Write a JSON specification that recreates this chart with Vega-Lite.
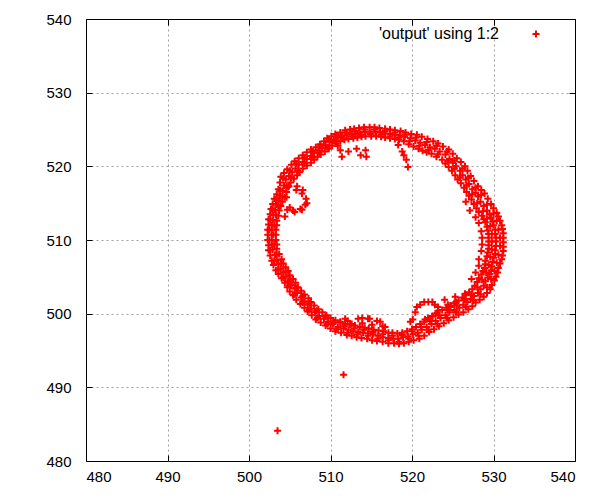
{
  "$schema": "https://vega.github.io/schema/vega-lite/v6.json",
  "width": 489,
  "height": 442,
  "autosize": {"type": "none"},
  "padding": {"left": 86, "top": 19, "right": 25, "bottom": 39},
  "background": "white",
  "config": {
    "view": {"stroke": "black", "strokeWidth": 1},
    "axis": {
      "labelFont": "Liberation Sans",
      "labelFontSize": 15,
      "labelColor": "black",
      "tickColor": "black",
      "tickSize": -6,
      "tickWidth": 1,
      "domain": false,
      "title": null,
      "gridColor": "#a0a0a0",
      "gridDash": [2, 3],
      "gridWidth": 1
    }
  },
  "datasets": {
    "ring": [
      {"x":502.9,"y":508.7},{"x":502.8,"y":509.4},{"x":502.8,"y":510.0},{"x":502.8,"y":510.7},{"x":502.8,"y":511.4},{"x":502.8,"y":512.0},{"x":502.9,"y":512.7},{"x":503.0,"y":513.4},{"x":503.2,"y":514.1},{"x":503.4,"y":514.8},{"x":503.6,"y":515.4},{"x":503.8,"y":516.0},{"x":504.1,"y":516.7},{"x":504.3,"y":517.4},{"x":504.5,"y":518.2},{"x":504.9,"y":518.7},{"x":505.3,"y":519.2},{"x":505.7,"y":519.7},{"x":506.1,"y":520.2},{"x":506.6,"y":520.6},{"x":507.1,"y":521.0},{"x":507.6,"y":521.4},{"x":508.0,"y":521.8},{"x":508.5,"y":522.2},{"x":509.0,"y":522.5},{"x":509.4,"y":522.9},{"x":509.9,"y":523.3},{"x":510.4,"y":523.6},{"x":510.9,"y":523.9},{"x":511.4,"y":524.1},{"x":512.0,"y":524.3},{"x":512.6,"y":524.4},{"x":513.1,"y":524.5},{"x":513.6,"y":524.6},{"x":514.2,"y":524.7},{"x":514.8,"y":524.7},{"x":515.5,"y":524.7},{"x":516.1,"y":524.6},{"x":516.7,"y":524.5},{"x":517.3,"y":524.4},{"x":517.9,"y":524.3},{"x":518.5,"y":524.2},{"x":519.1,"y":524.0},{"x":519.8,"y":523.8},{"x":520.4,"y":523.5},{"x":521.0,"y":523.2},{"x":521.6,"y":522.9},{"x":522.2,"y":522.6},{"x":522.8,"y":522.4},{"x":523.4,"y":522.0},{"x":524.1,"y":521.6},{"x":524.6,"y":521.0},{"x":525.0,"y":520.5},{"x":525.4,"y":520.0},{"x":525.9,"y":519.4},{"x":526.2,"y":518.8},{"x":526.6,"y":518.2},{"x":527.0,"y":517.6},{"x":527.4,"y":516.9},{"x":527.8,"y":516.4},{"x":528.1,"y":515.9},{"x":528.4,"y":515.2},{"x":528.8,"y":514.6},{"x":529.2,"y":514.0},{"x":529.5,"y":513.5},{"x":529.7,"y":513.0},{"x":529.9,"y":512.5},{"x":530.0,"y":512.0},{"x":530.2,"y":511.4},{"x":530.2,"y":510.8},{"x":530.3,"y":510.3},{"x":530.3,"y":509.8},{"x":530.3,"y":509.2},{"x":530.2,"y":508.6},{"x":530.2,"y":508.1},{"x":530.0,"y":507.6},{"x":529.9,"y":507.0},{"x":529.8,"y":506.4},{"x":529.7,"y":505.9},{"x":529.5,"y":505.4},{"x":529.3,"y":504.9},{"x":529.0,"y":504.4},{"x":528.8,"y":503.8},{"x":528.4,"y":503.3},{"x":528.1,"y":502.8},{"x":527.6,"y":502.4},{"x":527.2,"y":502.0},{"x":526.8,"y":501.6},{"x":526.3,"y":501.2},{"x":525.8,"y":500.8},{"x":525.2,"y":500.5},{"x":524.6,"y":500.2},{"x":524.1,"y":499.8},{"x":523.5,"y":499.4},{"x":522.9,"y":499.0},{"x":522.4,"y":498.6},{"x":521.8,"y":498.2},{"x":521.2,"y":497.8},{"x":520.7,"y":497.4},{"x":520.1,"y":497.2},{"x":519.5,"y":496.9},{"x":518.9,"y":496.8},{"x":518.3,"y":496.6},{"x":517.7,"y":496.6},{"x":517.1,"y":496.7},{"x":516.4,"y":496.8},{"x":515.8,"y":497.0},{"x":515.2,"y":497.2},{"x":514.6,"y":497.3},{"x":514.0,"y":497.4},{"x":513.4,"y":497.5},{"x":512.8,"y":497.6},{"x":512.2,"y":497.8},{"x":511.6,"y":498.0},{"x":510.9,"y":498.2},{"x":510.3,"y":498.6},{"x":509.7,"y":498.9},{"x":509.2,"y":499.3},{"x":508.6,"y":499.7},{"x":508.1,"y":500.2},{"x":507.6,"y":500.7},{"x":507.2,"y":501.2},{"x":506.8,"y":501.7},{"x":506.4,"y":502.2},{"x":505.9,"y":502.8},{"x":505.6,"y":503.4},{"x":505.2,"y":503.9},{"x":504.8,"y":504.4},{"x":504.5,"y":505.0},{"x":504.2,"y":505.6},{"x":503.9,"y":506.1},{"x":503.6,"y":506.7},{"x":503.4,"y":507.3},{"x":503.2,"y":508.0},
      {"x":502.4,"y":508.6},{"x":502.4,"y":509.3},{"x":502.3,"y":510.0},{"x":502.3,"y":510.7},{"x":502.3,"y":511.4},{"x":502.4,"y":512.1},{"x":502.4,"y":512.8},{"x":502.6,"y":513.5},{"x":502.7,"y":514.2},{"x":502.9,"y":514.9},{"x":503.1,"y":515.6},{"x":503.4,"y":516.2},{"x":503.6,"y":516.9},{"x":503.8,"y":517.8},{"x":503.9,"y":518.6},{"x":504.3,"y":519.1},{"x":504.7,"y":519.6},{"x":505.2,"y":520.2},{"x":505.6,"y":520.7},{"x":506.1,"y":521.1},{"x":506.6,"y":521.5},{"x":507.1,"y":521.9},{"x":507.6,"y":522.3},{"x":508.2,"y":522.6},{"x":508.7,"y":523.0},{"x":509.2,"y":523.4},{"x":509.6,"y":523.8},{"x":510.1,"y":524.1},{"x":510.6,"y":524.4},{"x":511.2,"y":524.6},{"x":511.8,"y":524.9},{"x":512.4,"y":525.0},{"x":512.9,"y":525.1},{"x":513.5,"y":525.2},{"x":514.1,"y":525.3},{"x":514.8,"y":525.3},{"x":515.4,"y":525.3},{"x":516.0,"y":525.2},{"x":516.7,"y":525.1},{"x":517.3,"y":525.0},{"x":517.9,"y":524.9},{"x":518.6,"y":524.8},{"x":519.2,"y":524.6},{"x":519.9,"y":524.4},{"x":520.6,"y":524.3},{"x":521.2,"y":524.0},{"x":521.9,"y":523.7},{"x":522.6,"y":523.4},{"x":523.2,"y":523.1},{"x":523.8,"y":522.7},{"x":524.5,"y":522.3},{"x":525.0,"y":521.7},{"x":525.5,"y":521.1},{"x":526.0,"y":520.6},{"x":526.5,"y":520.0},{"x":526.8,"y":519.4},{"x":527.2,"y":518.7},{"x":527.6,"y":518.0},{"x":528.1,"y":517.3},{"x":528.5,"y":516.8},{"x":528.9,"y":516.3},{"x":529.3,"y":515.6},{"x":529.7,"y":514.9},{"x":530.0,"y":514.3},{"x":530.4,"y":513.7},{"x":530.6,"y":513.2},{"x":530.8,"y":512.6},{"x":531.0,"y":512.0},{"x":531.1,"y":511.5},{"x":531.2,"y":510.9},{"x":531.2,"y":510.3},{"x":531.2,"y":509.7},{"x":531.2,"y":509.1},{"x":531.2,"y":508.5},{"x":531.1,"y":507.9},{"x":531.0,"y":507.4},{"x":530.8,"y":506.8},{"x":530.6,"y":506.2},{"x":530.5,"y":505.6},{"x":530.3,"y":505.0},{"x":530.1,"y":504.5},{"x":529.8,"y":503.9},{"x":529.6,"y":503.3},{"x":529.2,"y":502.8},{"x":528.8,"y":502.3},{"x":528.3,"y":501.9},{"x":527.8,"y":501.5},{"x":527.4,"y":501.0},{"x":526.9,"y":500.6},{"x":526.3,"y":500.2},{"x":525.7,"y":499.9},{"x":525.1,"y":499.5},{"x":524.5,"y":499.1},{"x":523.9,"y":498.7},{"x":523.3,"y":498.3},{"x":522.7,"y":497.9},{"x":522.1,"y":497.5},{"x":521.5,"y":497.0},{"x":520.9,"y":496.6},{"x":520.2,"y":496.4},{"x":519.6,"y":496.2},{"x":519.0,"y":496.0},{"x":518.4,"y":495.9},{"x":517.8,"y":496.0},{"x":517.1,"y":496.0},{"x":516.4,"y":496.2},{"x":515.7,"y":496.3},{"x":515.1,"y":496.4},{"x":514.5,"y":496.6},{"x":513.8,"y":496.7},{"x":513.2,"y":496.8},{"x":512.6,"y":497.0},{"x":512.0,"y":497.1},{"x":511.3,"y":497.4},{"x":510.6,"y":497.6},{"x":510.0,"y":498.0},{"x":509.4,"y":498.4},{"x":508.8,"y":498.8},{"x":508.2,"y":499.2},{"x":507.7,"y":499.8},{"x":507.2,"y":500.3},{"x":506.8,"y":500.8},{"x":506.3,"y":501.3},{"x":505.8,"y":501.9},{"x":505.4,"y":502.5},{"x":505.0,"y":503.0},{"x":504.7,"y":503.6},{"x":504.4,"y":504.2},{"x":504.0,"y":504.8},{"x":503.6,"y":505.4},{"x":503.3,"y":505.9},{"x":503.0,"y":506.6},{"x":502.8,"y":507.2},{"x":502.6,"y":507.9},
      {"x":503.4,"y":508.8},{"x":503.4,"y":509.4},{"x":503.3,"y":510.0},{"x":503.3,"y":510.7},{"x":503.3,"y":511.4},{"x":503.4,"y":512.0},{"x":503.4,"y":512.6},{"x":503.6,"y":513.3},{"x":503.7,"y":514.0},{"x":503.9,"y":514.6},{"x":504.1,"y":515.2},{"x":504.4,"y":515.8},{"x":504.6,"y":516.5},{"x":504.8,"y":517.2},{"x":505.1,"y":517.8},{"x":505.5,"y":518.3},{"x":505.9,"y":518.8},{"x":506.2,"y":519.2},{"x":506.6,"y":519.7},{"x":507.1,"y":520.1},{"x":507.6,"y":520.5},{"x":508.0,"y":520.9},{"x":508.4,"y":521.3},{"x":508.8,"y":521.6},{"x":509.3,"y":522.0},{"x":509.8,"y":522.4},{"x":510.2,"y":522.8},{"x":510.7,"y":523.1},{"x":511.2,"y":523.4},{"x":511.7,"y":523.6},{"x":512.2,"y":523.7},{"x":512.8,"y":523.8},{"x":513.3,"y":523.9},{"x":513.8,"y":524.0},{"x":514.3,"y":524.1},{"x":515.0,"y":524.1},{"x":515.6,"y":524.1},{"x":516.2,"y":524.0},{"x":516.7,"y":523.9},{"x":517.3,"y":523.8},{"x":517.9,"y":523.7},{"x":518.4,"y":523.6},{"x":519.0,"y":523.4},{"x":519.6,"y":523.0},{"x":520.2,"y":522.7},{"x":520.8,"y":522.4},{"x":521.3,"y":522.1},{"x":521.8,"y":521.9},{"x":522.4,"y":521.7},{"x":523.0,"y":521.3},{"x":523.7,"y":520.9},{"x":524.1,"y":520.4},{"x":524.5,"y":519.9},{"x":524.9,"y":519.4},{"x":525.3,"y":518.8},{"x":525.6,"y":518.2},{"x":526.0,"y":517.7},{"x":526.4,"y":517.1},{"x":526.7,"y":516.5},{"x":527.0,"y":516.0},{"x":527.3,"y":515.5},{"x":527.6,"y":514.9},{"x":527.9,"y":514.3},{"x":528.2,"y":513.8},{"x":528.6,"y":513.3},{"x":528.8,"y":512.8},{"x":529.0,"y":512.4},{"x":529.2,"y":511.8},{"x":529.3,"y":511.3},{"x":529.4,"y":510.8},{"x":529.4,"y":510.3},{"x":529.4,"y":509.8},{"x":529.4,"y":509.3},{"x":529.4,"y":508.8},{"x":529.3,"y":508.3},{"x":529.2,"y":507.8},{"x":529.0,"y":507.2},{"x":529.0,"y":506.7},{"x":528.9,"y":506.2},{"x":528.7,"y":505.8},{"x":528.5,"y":505.3},{"x":528.2,"y":504.8},{"x":528.0,"y":504.3},{"x":527.7,"y":503.8},{"x":527.4,"y":503.3},{"x":527.0,"y":502.9},{"x":526.6,"y":502.5},{"x":526.2,"y":502.2},{"x":525.7,"y":501.8},{"x":525.2,"y":501.4},{"x":524.7,"y":501.1},{"x":524.2,"y":500.8},{"x":523.7,"y":500.5},{"x":523.1,"y":500.1},{"x":522.5,"y":499.7},{"x":522.0,"y":499.3},{"x":521.5,"y":498.9},{"x":521.0,"y":498.6},{"x":520.5,"y":498.2},{"x":520.0,"y":497.9},{"x":519.4,"y":497.6},{"x":518.8,"y":497.4},{"x":518.2,"y":497.3},{"x":517.6,"y":497.4},{"x":517.1,"y":497.4},{"x":516.5,"y":497.6},{"x":515.9,"y":497.7},{"x":515.3,"y":497.8},{"x":514.7,"y":498.0},{"x":514.2,"y":498.1},{"x":513.6,"y":498.2},{"x":513.0,"y":498.4},{"x":512.4,"y":498.5},{"x":511.8,"y":498.6},{"x":511.2,"y":498.8},{"x":510.6,"y":499.1},{"x":510.0,"y":499.4},{"x":509.5,"y":499.8},{"x":509.0,"y":500.2},{"x":508.5,"y":500.6},{"x":508.0,"y":501.1},{"x":507.6,"y":501.6},{"x":507.3,"y":502.1},{"x":506.8,"y":502.6},{"x":506.4,"y":503.1},{"x":506.0,"y":503.6},{"x":505.7,"y":504.2},{"x":505.4,"y":504.7},{"x":505.0,"y":505.2},{"x":504.8,"y":505.8},{"x":504.5,"y":506.3},{"x":504.2,"y":506.8},{"x":504.0,"y":507.4},{"x":503.7,"y":508.1},
      {"x":502.6,"y":508.6},{"x":502.5,"y":510.0},{"x":502.5,"y":511.4},{"x":502.6,"y":512.7},{"x":502.9,"y":514.1},{"x":503.3,"y":515.5},{"x":503.8,"y":516.8},{"x":504.2,"y":518.4},{"x":505.0,"y":519.4},{"x":505.8,"y":520.4},{"x":506.8,"y":521.2},{"x":507.8,"y":522.0},{"x":508.8,"y":522.8},{"x":509.8,"y":523.6},{"x":510.8,"y":524.2},{"x":511.9,"y":524.6},{"x":513.0,"y":524.8},{"x":514.2,"y":525.0},{"x":515.4,"y":525.0},{"x":516.7,"y":524.8},{"x":517.9,"y":524.6},{"x":519.2,"y":524.3},{"x":520.5,"y":523.9},{"x":521.8,"y":523.3},{"x":523.0,"y":522.8},{"x":524.3,"y":522.0},{"x":525.2,"y":520.8},{"x":526.2,"y":519.7},{"x":526.9,"y":518.4},{"x":527.8,"y":517.1},{"x":528.5,"y":516.1},{"x":529.2,"y":514.8},{"x":530.0,"y":513.6},{"x":530.4,"y":512.6},{"x":530.6,"y":511.4},{"x":530.8,"y":510.3},{"x":530.8,"y":509.2},{"x":530.6,"y":508.0},{"x":530.4,"y":506.9},{"x":530.1,"y":505.8},{"x":529.7,"y":504.7},{"x":529.2,"y":503.6},{"x":528.4,"y":502.6},{"x":527.5,"y":501.8},{"x":526.6,"y":500.9},{"x":525.4,"y":500.2},{"x":524.3,"y":499.4},{"x":523.1,"y":498.6},{"x":522.0,"y":497.8},{"x":520.8,"y":497.0},{"x":519.6,"y":496.6},{"x":518.4,"y":496.2},{"x":517.1,"y":496.4},{"x":515.8,"y":496.6},{"x":514.6,"y":497.0},{"x":513.3,"y":497.2},{"x":512.1,"y":497.4},{"x":510.8,"y":497.9},{"x":509.6,"y":498.6},{"x":508.4,"y":499.4},{"x":507.4,"y":500.5},{"x":506.6,"y":501.5},{"x":505.6,"y":502.6},{"x":505.0,"y":503.8},{"x":504.2,"y":504.9},{"x":503.6,"y":506.0},{"x":503.1,"y":507.2},
      {"x":503.1,"y":509.4},{"x":503.0,"y":510.7},{"x":503.1,"y":512.0},{"x":503.3,"y":513.4},{"x":503.6,"y":514.7},{"x":504.1,"y":515.9},{"x":504.6,"y":517.3},{"x":505.2,"y":518.5},{"x":506.0,"y":519.4},{"x":506.8,"y":520.4},{"x":507.8,"y":521.2},{"x":508.6,"y":521.9},{"x":509.6,"y":522.6},{"x":510.6,"y":523.4},{"x":511.6,"y":523.8},{"x":512.7,"y":524.1},{"x":513.7,"y":524.3},{"x":514.9,"y":524.4},{"x":516.2,"y":524.3},{"x":517.3,"y":524.1},{"x":518.4,"y":523.9},{"x":519.7,"y":523.4},{"x":520.9,"y":522.8},{"x":522.0,"y":522.2},{"x":523.2,"y":521.6},{"x":524.4,"y":520.7},{"x":525.2,"y":519.7},{"x":525.9,"y":518.5},{"x":526.7,"y":517.4},{"x":527.4,"y":516.2},{"x":528.0,"y":515.0},{"x":528.7,"y":513.9},{"x":529.2,"y":512.9},{"x":529.6,"y":511.9},{"x":529.8,"y":510.8},{"x":529.8,"y":509.8},{"x":529.8,"y":508.7},{"x":529.6,"y":507.7},{"x":529.4,"y":506.6},{"x":529.1,"y":505.6},{"x":528.6,"y":504.6},{"x":528.0,"y":503.6},{"x":527.3,"y":502.6},{"x":526.5,"y":501.9},{"x":525.5,"y":501.1},{"x":524.4,"y":500.5},{"x":523.3,"y":499.8},{"x":522.2,"y":499.0},{"x":521.1,"y":498.2},{"x":520.0,"y":497.6},{"x":518.8,"y":497.1},{"x":517.6,"y":497.0},{"x":516.4,"y":497.2},{"x":515.2,"y":497.5},{"x":514.1,"y":497.8},{"x":512.9,"y":498.0},{"x":511.7,"y":498.3},{"x":510.4,"y":498.8},{"x":509.4,"y":499.6},{"x":508.3,"y":500.4},{"x":507.4,"y":501.4},{"x":506.6,"y":502.4},{"x":505.8,"y":503.5},{"x":505.1,"y":504.6},{"x":504.5,"y":505.7},{"x":503.9,"y":506.8},{"x":503.4,"y":508.0},
      {"x":526.6,"y":515.2},{"x":527.1,"y":514.0},{"x":527.8,"y":513.1},{"x":528.2,"y":512.3},{"x":528.5,"y":511.2},{"x":528.6,"y":510.3},{"x":528.6,"y":509.4},{"x":528.5,"y":508.5},{"x":528.2,"y":507.4},{"x":528.2,"y":506.5},{"x":527.8,"y":505.6},{"x":527.3,"y":504.7},
      {"x":511.2,"y":522.2},{"x":511.4,"y":521.3},{"x":512.2,"y":522.0},{"x":513.2,"y":522.4},{"x":513.7,"y":521.5},{"x":514.3,"y":522.2},{"x":514.4,"y":521.3},{"x":510.9,"y":522.8},
      {"x":518.3,"y":522.9},{"x":518.8,"y":522.0},{"x":519.3,"y":520.9},{"x":519.5,"y":519.9},{"x":519.0,"y":521.5},
      {"x":504.9,"y":517.3},{"x":505.8,"y":516.8},{"x":506.5,"y":516.3},{"x":507.0,"y":515.6},{"x":506.9,"y":514.8},{"x":506.3,"y":514.2},{"x":505.4,"y":514.0},{"x":504.7,"y":514.1},{"x":504.4,"y":513.2},{"x":504.6,"y":515.8},
      {"x":505.9,"y":517.3},{"x":506.6,"y":516.8},{"x":507.1,"y":515.0},{"x":506.5,"y":514.1},{"x":505.6,"y":513.8},{"x":505.0,"y":514.4},
      {"x":512.1,"y":499.0},{"x":513.4,"y":499.3},{"x":514.6,"y":499.3},{"x":515.7,"y":499.0},{"x":516.4,"y":498.3},{"x":512.6,"y":498.6},{"x":515.1,"y":498.5},{"x":513.9,"y":498.7},
      {"x":511.2,"y":498.9},{"x":511.8,"y":499.3},{"x":513.9,"y":499.4},{"x":514.8,"y":499.3},{"x":516.1,"y":498.9},{"x":516.7,"y":498.2},
      {"x":519.8,"y":498.9},{"x":520.4,"y":500.2},{"x":521.0,"y":501.2},{"x":522.0,"y":501.6},{"x":522.8,"y":501.2},{"x":523.2,"y":500.4},{"x":522.5,"y":499.6},{"x":521.6,"y":499.2},{"x":524.0,"y":501.9},{"x":525.3,"y":502.3},{"x":526.5,"y":502.7},{"x":524.7,"y":500.9},
      {"x":520.1,"y":499.2},{"x":520.6,"y":500.9},{"x":521.5,"y":501.6},{"x":522.5,"y":501.6},{"x":523.2,"y":500.9},{"x":522.9,"y":500.0},{"x":522.0,"y":499.4},{"x":524.4,"y":501.2},{"x":525.4,"y":501.6},{"x":526.4,"y":502.0}
    ],
    "outliers": [
      {"x":503.5,"y":484.1},{"x":511.6,"y":491.7}
    ]
  },
  "layer": [
    {
      "data": {"name": "ring"},
      "mark": {"type": "point", "shape": "M-1,0H1M0,-1V1", "size": 49, "filled": false, "strokeWidth": 2, "opacity": 1},
      "encoding": {
        "x": {
          "field": "x", "type": "quantitative",
          "scale": {"domain": [480, 540], "nice": false, "zero": false},
          "axis": {
            "orient": "bottom",
            "values": [480, 490, 500, 510, 520, 530, 540],
            "labelPadding": 14,
            "gridOpacity": {"condition": {"test": "datum.value === 480 || datum.value === 540", "value": 0}, "value": 1}
          }
        },
        "y": {
          "field": "y", "type": "quantitative",
          "scale": {"domain": [480, 540], "nice": false, "zero": false},
          "axis": {
            "orient": "left",
            "values": [480, 490, 500, 510, 520, 530, 540],
            "labelPadding": 21,
            "gridOpacity": {"condition": {"test": "datum.value === 480 || datum.value === 540", "value": 0}, "value": 1}
          }
        },
        "color": {
          "datum": "'output' using 1:2",
          "type": "nominal",
          "scale": {"range": ["#ff0000"]},
          "legend": {
            "title": null,
            "orient": "none",
            "legendX": 442,
            "legendY": 7,
            "padding": 0,
            "labelAlign": "right",
            "labelOffset": -45,
            "labelLimit": 300,
            "labelFont": "Liberation Sans",
            "labelFontSize": 16,
            "labelColor": "black",
            "symbolType": "M-1,0H1M0,-1V1",
            "symbolSize": 49,
            "symbolStrokeWidth": 2
          }
        }
      }
    },
    {
      "data": {"name": "outliers"},
      "mark": {"type": "point", "shape": "M-1,0H1M0,-1V1", "size": 49, "filled": false, "strokeWidth": 2, "opacity": 1},
      "encoding": {
        "x": {
          "field": "x", "type": "quantitative",
          "scale": {"domain": [480, 540], "nice": false, "zero": false},
          "axis": {"orient": "top", "values": [480, 490, 500, 510, 520, 530, 540], "labels": false, "grid": false}
        },
        "y": {
          "field": "y", "type": "quantitative",
          "scale": {"domain": [480, 540], "nice": false, "zero": false},
          "axis": {"orient": "right", "values": [480, 490, 500, 510, 520, 530, 540], "labels": false, "grid": false}
        },
        "color": {"datum": "'output' using 1:2", "type": "nominal"}
      }
    }
  ],
  "resolve": {"axis": {"x": "independent", "y": "independent"}}
}
